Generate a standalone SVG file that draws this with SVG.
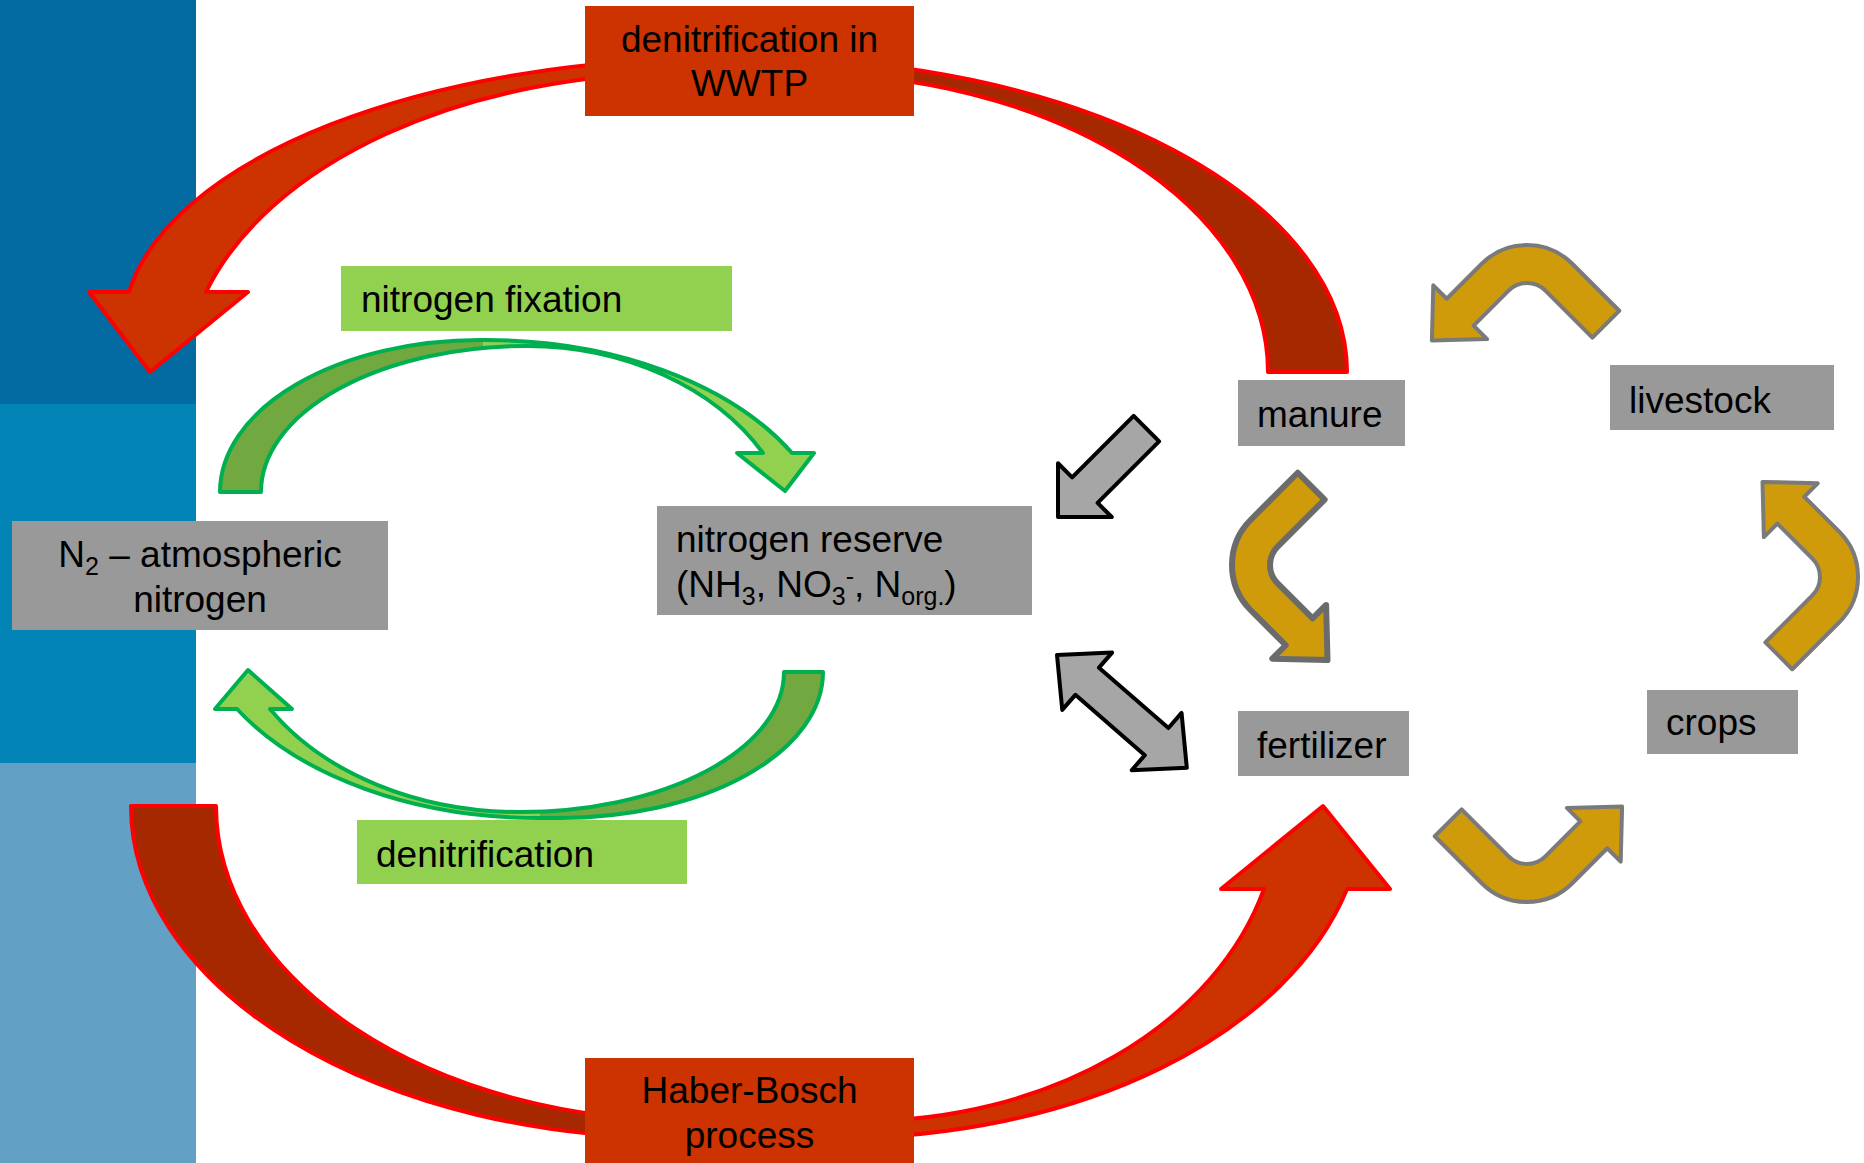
<svg xmlns="http://www.w3.org/2000/svg" width="1864" height="1163" viewBox="0 0 1864 1163">
<defs>
<style>
text { font-family: "Liberation Sans", Arial, sans-serif; font-size: 37px; fill: #000000; }
.gbox { fill: #999999; }
.lbox { fill: #92D050; }
.rbox { fill: #CC3300; }
.rlight { fill: #CC3300; stroke: none; }
.rdark { fill: #A52800; stroke: none; }
.rout { fill: none; stroke: #FF0000; stroke-width: 4; stroke-linejoin: round; }
.glight { fill: #92D050; stroke: none; }
.gdark { fill: #71A83F; stroke: none; }
.gout { fill: none; stroke: #00B050; stroke-width: 4; stroke-linejoin: round; }
.gold { fill: #CF9B0B; stroke: #7A7A7A; stroke-width: 4; stroke-linejoin: round; }
.gold2 { fill: #CF9B0B; stroke: #6B6B6B; stroke-width: 6; stroke-linejoin: round; }
.gray { fill: #A6A6A6; stroke: #000000; stroke-width: 4; stroke-linejoin: round; }
</style>
<path id="bent" d="M 92.25 1.75 L 45.25 -45.25 A 64 64 0 0 0 -45.25 -45.25 L -80.25 -10.25 L -93.7 -23.7 L -95.1 31.5 L -39.9 30.1 L -53.38 16.62 L -18.38 -18.38 A 26 26 0 0 1 18.38 -18.38 L 65.38 28.62 Z"/>
</defs>

<g id="background">
<rect x="0" y="0" width="196" height="404" fill="#046AA2"/>
<rect x="0" y="404" width="196" height="359" fill="#0285B6"/>
<rect x="0" y="763" width="196" height="400" fill="#62A0C6"/>
</g>

<g id="connectors">
<g id="arrow-wwtp">
<path class="rlight" d="M 740 58 L 725 58 A 602 272 0 0 0 129 292 L 89 292 L 150 372 L 248 292 L 206 292 A 500 307 0 0 1 685 73 L 740 73 Z"/>
<path class="rdark" d="M 740 58 L 754 58 A 593 314 0 0 1 1347 372 L 1268 372 A 470 299 0 0 0 798 73 L 740 73 Z"/>
<path class="rout" d="M 725 58 A 602 272 0 0 0 129 292 L 89 292 L 150 372 L 248 292 L 206 292 A 500 307 0 0 1 685 73 L 798 73 A 470 299 0 0 1 1268 372 L 1347 372 A 593 314 0 0 0 754 58 Z"/>
</g>
<g id="arrow-haber">
<path class="rdark" d="M 760 1138 L 678 1138 A 547 332 0 0 1 131 806 L 216 806 A 476 315 0 0 0 692 1121 L 760 1121 Z"/>
<path class="rlight" d="M 760 1121 L 862 1121 A 417 315 0 0 0 1264 889 L 1221 889 L 1323 806 L 1390 889 L 1347 889 A 525 332 0 0 1 839 1138 L 760 1138 Z"/>
<path class="rout" d="M 678 1138 A 547 332 0 0 1 131 806 L 216 806 A 476 315 0 0 0 692 1121 L 862 1121 A 417 315 0 0 0 1264 889 L 1221 889 L 1323 806 L 1390 889 L 1347 889 A 525 332 0 0 1 839 1138 Z"/>
</g>
<g id="arrow-fixation">
<path class="gdark" d="M 483 340 L 480 340 A 260 152 0 0 0 220 492 L 261 492 A 266 146 0 0 1 527 346 L 483 346 Z"/>
<path class="glight" d="M 483 340 L 486 340 A 350 220 0 0 1 792 453 L 814 453 L 785 491 L 737 453 L 763 453 A 273 214 0 0 0 527 346 L 483 346 Z"/>
<path class="gout" d="M 480 340 A 260 152 0 0 0 220 492 L 261 492 A 266 146 0 0 1 527 346 A 273 214 0 0 1 763 453 L 737 453 L 785 491 L 814 453 L 792 453 A 350 220 0 0 0 486 340 Z"/>
</g>
<g id="arrow-denitrification">
<path class="gdark" d="M 540 818 L 560 818 A 263 146 0 0 0 823 672 L 784 672 A 264 140 0 0 1 520 812 L 540 812 Z"/>
<path class="glight" d="M 540 812 L 520 812 A 292 214 0 0 1 270 709 L 292 709 L 248 670 L 215 709 L 237 709 A 350 220 0 0 0 539 818 L 540 818 Z"/>
<path class="gout" d="M 560 818 A 263 146 0 0 0 823 672 L 784 672 A 264 140 0 0 1 520 812 A 292 214 0 0 1 270 709 L 292 709 L 248 670 L 215 709 L 237 709 A 350 220 0 0 0 539 818 Z"/>
</g>
<path id="arrow-manure-reserve" class="gray" transform="translate(1058,517) rotate(-45)" d="M 0 0 L 38 -38 L 38 -18 L 125 -18 L 125 18 L 38 18 L 38 38 Z"/>
<path id="arrow-reserve-fertilizer" class="gray" transform="translate(1057,655) rotate(41)" d="M 0 0 L 40 -38 L 40 -18 L 132 -18 L 132 -38 L 172 0 L 132 38 L 132 18 L 40 18 L 40 38 Z"/>
<use id="arrow-livestock-manure" href="#bent" class="gold" transform="translate(1527,309)"/>
<use id="arrow-crops-livestock" href="#bent" class="gold" transform="translate(1794,577) rotate(90)"/>
<use id="arrow-fertilizer-crops" href="#bent" class="gold" transform="translate(1527,838) rotate(180)"/>
<use id="arrow-manure-fertilizer" href="#bent" class="gold2" transform="translate(1296,565) rotate(270)"/>
</g>

<g id="node-wwtp">
<rect class="rbox" x="585" y="6" width="329" height="110"/>
<text x="749.5" y="52" text-anchor="middle">denitrification in</text>
<text x="749.5" y="96" text-anchor="middle">WWTP</text>
</g>
<g id="node-haber">
<rect class="rbox" x="585" y="1058" width="329" height="105"/>
<text x="749.5" y="1103" text-anchor="middle">Haber-Bosch</text>
<text x="749.5" y="1148" text-anchor="middle">process</text>
</g>
<g id="node-fixation">
<rect class="lbox" x="341" y="266" width="391" height="65"/>
<text x="361" y="312">nitrogen fixation</text>
</g>
<g id="node-denitrification">
<rect class="lbox" x="357" y="820" width="330" height="64"/>
<text x="376" y="867">denitrification</text>
</g>
<g id="node-n2">
<rect class="gbox" x="12" y="521" width="376" height="109"/>
<text x="200" y="567" text-anchor="middle">N<tspan font-size="25" dy="8">2</tspan><tspan dy="-8"> – atmospheric</tspan></text>
<text x="200" y="612" text-anchor="middle">nitrogen</text>
</g>
<g id="node-reserve">
<rect class="gbox" x="657" y="506" width="375" height="109"/>
<text x="676" y="552">nitrogen reserve</text>
<text x="676" y="597">(NH<tspan font-size="25" dy="8">3</tspan><tspan dy="-8">, NO</tspan><tspan font-size="25" dy="8">3</tspan><tspan font-size="25" dy="-20">-</tspan><tspan dy="12">, N</tspan><tspan font-size="25" dy="8">org.</tspan><tspan dy="-8">)</tspan></text>
</g>
<g id="node-manure">
<rect class="gbox" x="1238" y="380" width="167" height="66"/>
<text x="1257" y="427">manure</text>
</g>
<g id="node-livestock">
<rect class="gbox" x="1610" y="365" width="224" height="65"/>
<text x="1629" y="413">livestock</text>
</g>
<g id="node-fertilizer">
<rect class="gbox" x="1238" y="711" width="171" height="65"/>
<text x="1257" y="758">fertilizer</text>
</g>
<g id="node-crops">
<rect class="gbox" x="1647" y="690" width="151" height="64"/>
<text x="1666" y="735">crops</text>
</g>
</svg>
